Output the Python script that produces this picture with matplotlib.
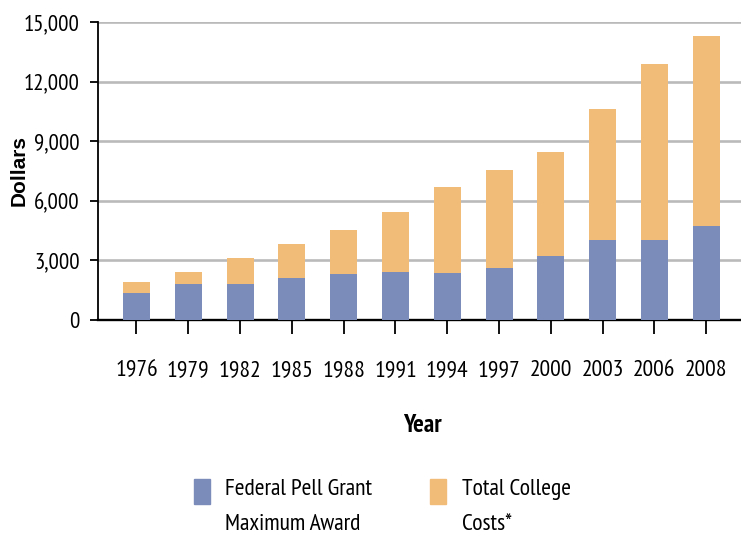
import matplotlib
matplotlib.use("Agg")
import matplotlib.pyplot as plt
from matplotlib.patches import Rectangle
from matplotlib import font_manager as fm
import numpy as np

years = ["1976", "1979", "1982", "1985", "1988", "1991", "1994", "1997",
         "2000", "2003", "2006", "2008"]
pell_award = [1350, 1800, 1800, 2100, 2300, 2440, 2360, 2600, 3220, 4020, 4020, 4730]
total_costs = [1890, 2430, 3140, 3850, 4550, 5450, 6680, 7560, 8470, 10600, 12900, 14300]
y_ticks = [0, 3000, 6000, 9000, 12000, 15000]
y_tick_labels = ["0", "3,000", "6,000", "9,000", "12,000", "15,000"]
legend_labels = ["Federal Pell Grant\nMaximum Award", "Total College\nCosts*"]

BLUE = "#7b8cbb"
ORANGE = "#f1bc78"

available = set(f.name for f in fm.fontManager.ttflist)
narrow_name = "DejaVu Sans"
for cand in ["Liberation Sans Narrow", "Arial Narrow", "PT Sans Narrow",
             "Archivo Narrow", "Roboto Condensed", "Barlow Semi Condensed"]:
    if cand in available:
        narrow_name = cand
        break
NARROW = [narrow_name, "DejaVu Sans"]

W, H = 741, 541
fig = plt.figure(figsize=(W / 100, H / 100), dpi=100)
ax = fig.add_axes([98 / W, (H - 320) / H, (W - 98) / W, 298 / H])

x = np.arange(len(years))
pell = np.array(pell_award)
total = np.array(total_costs)
ax.bar(x, pell, width=0.52, color=BLUE, zorder=3)
ax.bar(x, total - pell, bottom=pell, width=0.52, color=ORANGE, zorder=3)

ax.set_xlim(-0.743, 11.67)
ax.set_ylim(0, 15000)
ax.set_yticks(y_ticks)
ax.set_yticklabels(y_tick_labels, family=NARROW, fontsize=16.5)
ax.set_xticks(x)
ax.set_xticklabels(years, family=NARROW, fontsize=17)

ax.yaxis.grid(True, color="#bababa", linewidth=1.9, zorder=0)
ax.set_axisbelow(True)
for s in ["top", "right"]:
    ax.spines[s].set_visible(False)
ax.spines["left"].set_linewidth(1.3)
ax.spines["bottom"].set_linewidth(1.7)
ax.tick_params(axis="y", length=6, width=1.3, pad=7)
ax.tick_params(axis="x", length=10, width=1.3, pad=19)

ax.set_xlabel("Year", family=NARROW, fontweight="bold", fontsize=18)
ax.xaxis.set_label_coords(0.504, -0.315)
ax.set_ylabel("Dollars", family=["Liberation Sans", "DejaVu Sans"],
              fontweight="bold", fontsize=15)
ax.yaxis.set_label_coords(-0.108, 0.5)

def fx(px):
    return px / W

def fy(py):
    return 1 - py / H

for (sx, tx), label, col in zip([(194, 225), (430, 462)], legend_labels, [BLUE, ORANGE]):
    fig.patches.append(Rectangle((fx(sx), fy(504)), 16 / W, 25 / H,
                                 transform=fig.transFigure, color=col))
    fig.text(fx(tx), fy(479), label, family=NARROW, fontsize=17,
             va="top", ha="left", linespacing=1.85)

fig.savefig("out.png", dpi=100)
